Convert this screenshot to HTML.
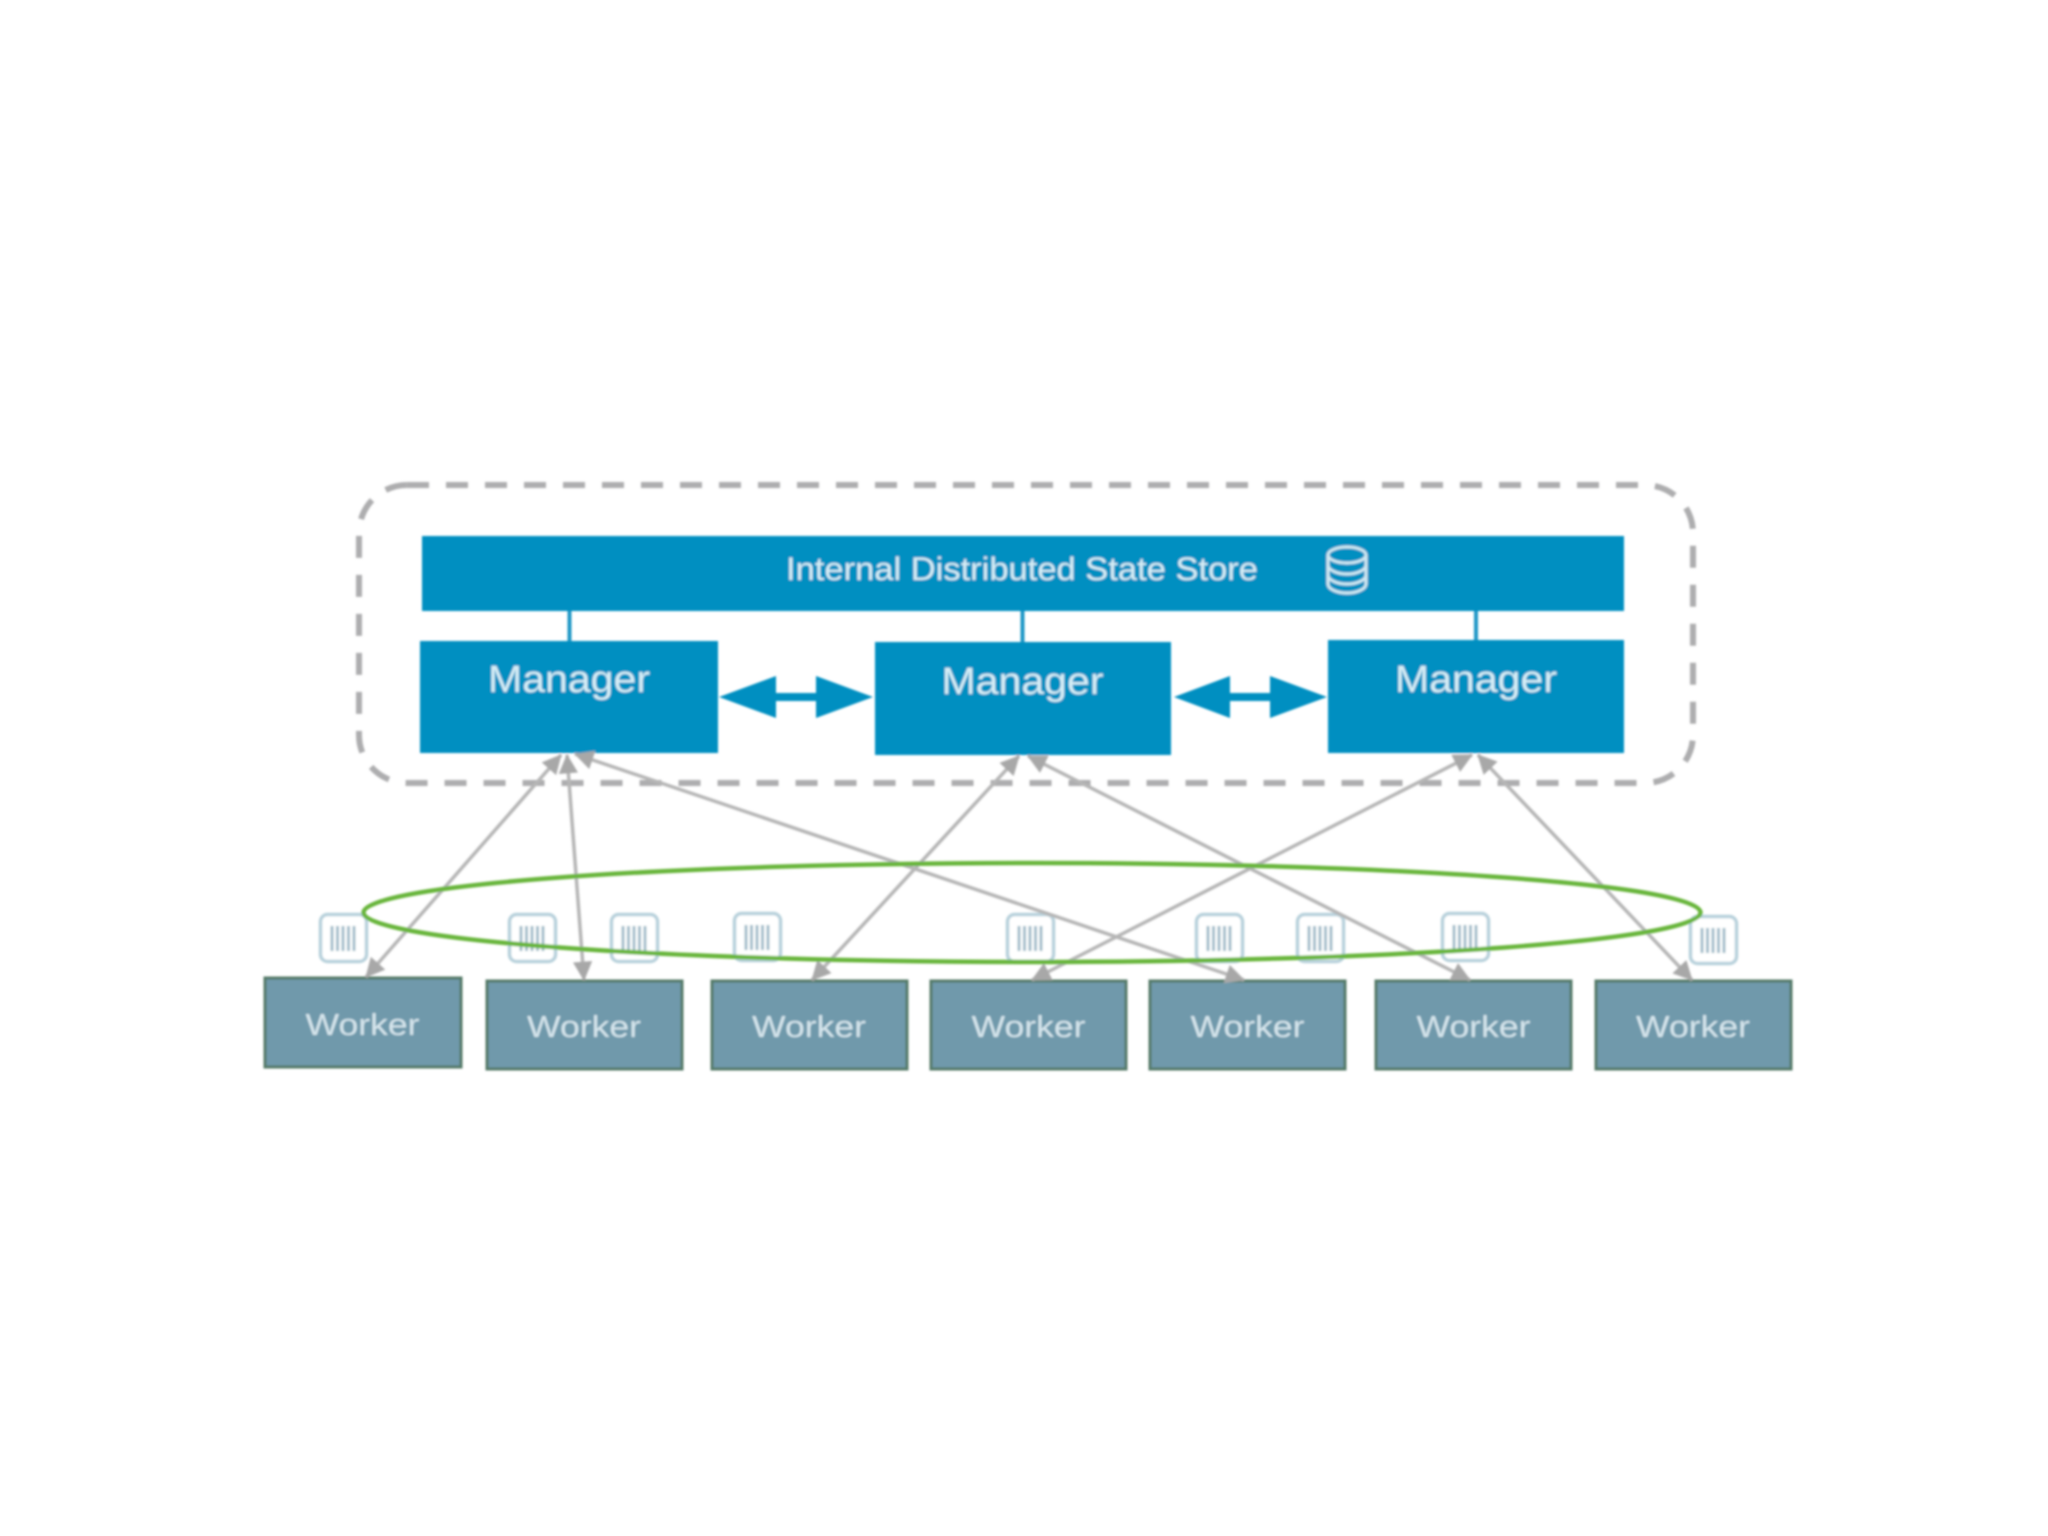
<!DOCTYPE html>
<html>
<head>
<meta charset="utf-8">
<style>
html,body{margin:0;padding:0;background:#fff;width:2048px;height:1536px;overflow:hidden}
svg{display:block}
text{font-family:"Liberation Sans",sans-serif;text-anchor:middle}
</style>
</head>
<body>
<svg width="2048" height="1536" viewBox="0 0 2048 1536" xmlns="http://www.w3.org/2000/svg">
<defs>
<filter id="b" x="-5%" y="-5%" width="110%" height="110%"><feGaussianBlur stdDeviation="1.1"/></filter>
<marker id="ah" viewBox="0 0 10 10" refX="9.5" refY="5" markerWidth="6" markerHeight="5.5" markerUnits="strokeWidth" orient="auto-start-reverse"><path d="M0 0L10 5L0 10Z" fill="#a8a8a8"/></marker>
<g id="task">
<rect x="1.5" y="1.5" width="46" height="47" rx="7" fill="#fff" stroke="#b8d1dc" stroke-width="3.5"/>
<path d="M13 13V38M18.5 13V38M24 13V38M29.5 13V38M35 13V38" stroke="#a2bdca" stroke-width="3" fill="none"/>
</g>
</defs>
<rect width="2048" height="1536" fill="#fff"/>
<g filter="url(#b)">
<rect x="359" y="485" width="1334" height="298" rx="48" fill="none" stroke="#adadaf" stroke-width="6" stroke-dasharray="22 17"/>

<rect x="422" y="536" width="1202" height="75" fill="#008fc1"/>
<path d="M569.5 611V641M1022.5 611V642M1476 611V640" stroke="#1b97c6" stroke-width="4"/>
<rect x="420" y="641" width="298" height="112" fill="#008fc1"/>
<rect x="875" y="642" width="296" height="113" fill="#008fc1"/>
<rect x="1328" y="640" width="296" height="113" fill="#008fc1"/>

<path d="M719 697L776 676V693H816V676L873 697L816 718V701H776V718Z" fill="#008fc1"/>
<path d="M1174 697L1230 676V693H1270V676L1327 697L1270 718V701H1230V718Z" fill="#008fc1"/>

<text x="1022" y="580" font-size="32" fill="#d6edf6" textLength="472" lengthAdjust="spacingAndGlyphs">Internal Distributed State Store</text>
<text x="569" y="692" font-size="38" fill="#d6edf6" textLength="162" lengthAdjust="spacingAndGlyphs">Manager</text>
<text x="1022.5" y="694" font-size="38" fill="#d6edf6" textLength="162" lengthAdjust="spacingAndGlyphs">Manager</text>
<text x="1476" y="692" font-size="38" fill="#d6edf6" textLength="162" lengthAdjust="spacingAndGlyphs">Manager</text>

<g fill="none" stroke="#cfe8f2" stroke-width="3">
<ellipse cx="1347" cy="555" rx="19" ry="8"/>
<path d="M1328 555V584C1328 589 1337 593 1347 593C1357 593 1366 589 1366 584V555"/>
<path d="M1328 565C1328 570 1337 574 1347 574C1357 574 1366 570 1366 565"/>
<path d="M1328 575C1328 580 1337 584 1347 584C1357 584 1366 580 1366 575"/>
</g>

<g fill="#7099ab" stroke="#557a68" stroke-width="3">
<rect x="265" y="978" width="196" height="89"/>
<rect x="487" y="981" width="195" height="88"/>
<rect x="712" y="981" width="195" height="88"/>
<rect x="931" y="981" width="195" height="88"/>
<rect x="1150" y="981" width="195" height="88"/>
<rect x="1376" y="981" width="195" height="88"/>
<rect x="1596" y="981" width="195" height="88"/>
</g>
<g font-size="31" fill="#d5e5ec">
<text x="362.5" y="1035" textLength="114" lengthAdjust="spacingAndGlyphs">Worker</text>
<text x="584" y="1037" textLength="114" lengthAdjust="spacingAndGlyphs">Worker</text>
<text x="809" y="1037" textLength="114" lengthAdjust="spacingAndGlyphs">Worker</text>
<text x="1028.5" y="1037" textLength="114" lengthAdjust="spacingAndGlyphs">Worker</text>
<text x="1247.5" y="1037" textLength="114" lengthAdjust="spacingAndGlyphs">Worker</text>
<text x="1473.5" y="1037" textLength="114" lengthAdjust="spacingAndGlyphs">Worker</text>
<text x="1693" y="1037" textLength="114" lengthAdjust="spacingAndGlyphs">Worker</text>
</g>

<use href="#task" x="319" y="913"/>
<use href="#task" x="508" y="913"/>
<use href="#task" x="610" y="913"/>
<use href="#task" x="733" y="912"/>
<use href="#task" x="1006" y="913"/>
<use href="#task" x="1195" y="913"/>
<use href="#task" x="1296" y="913"/>
<use href="#task" x="1441" y="912"/>
<use href="#task" x="1689" y="915"/>

<g fill="none" stroke="#b6b6b6" stroke-width="3.5" marker-start="url(#ah)" marker-end="url(#ah)">
<line x1="366" y1="977" x2="561" y2="755"/>
<line x1="584" y1="980" x2="567" y2="755"/>
<line x1="1244" y1="980" x2="575" y2="754"/>
<line x1="812" y1="980" x2="1019" y2="756"/>
<line x1="1470" y1="980" x2="1028" y2="756"/>
<line x1="1032" y1="980" x2="1472" y2="755"/>
<line x1="1692" y1="980" x2="1478" y2="755"/>
</g>

<ellipse cx="1032" cy="912.5" rx="668.5" ry="49.5" fill="none" stroke="#68b53a" stroke-width="4.5"/>
</g>
</svg>
</body>
</html>
